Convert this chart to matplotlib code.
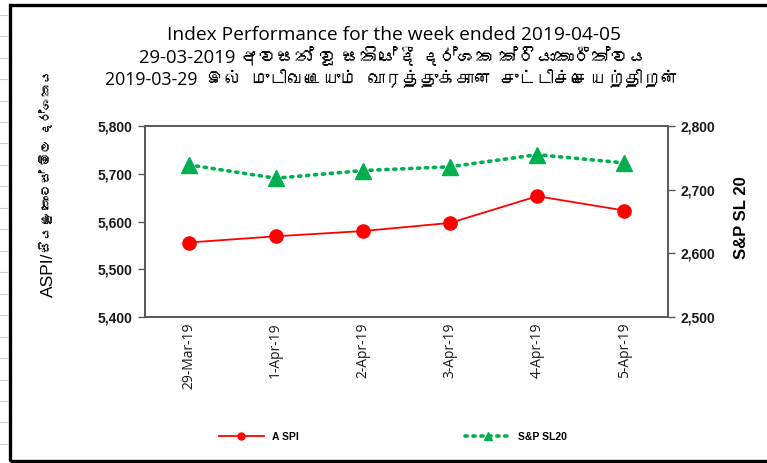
import numpy as np
import matplotlib
matplotlib.use('Agg')
import matplotlib.pyplot as plt
from matplotlib import font_manager
from matplotlib.ft2font import FT2Font
from matplotlib.lines import Line2D
from matplotlib.patches import Rectangle

# data
dates = ['29-Mar-19', '1-Apr-19', '2-Apr-19', '3-Apr-19', '4-Apr-19', '5-Apr-19']
aspi = [5556, 5569, 5580, 5597, 5653, 5623]
snp = [2739, 2718, 2730, 2736, 2755, 2742]
aspi_ticks = [5400, 5500, 5600, 5700, 5800]
snp_ticks = [2500, 2600, 2700, 2800]

title_en = 'Index Performance for the week ended 2019-04-05'
title_si = '29-03-2019 අවසන් වූ සතියේදී දර්ශක ක්රියාකාරීත්වය'
title_ta = '2019-03-29  இல்  முடிவடையும்  வாரத்துக்கான  சுட்டிச்செயற்திறன்'
ylab_left_a = 'ASPI/'
ylab_left_b = 'සියළු කොටස් මිල දර්ශකය'
ylab_right = 'S&P SL 20'


def find_family(ch):
    # look for any installed font that has the glyph
    for f in font_manager.fontManager.ttflist:
        try:
            if ord(ch) in FT2Font(f.fname).get_charmap():
                return f.name
        except Exception:
            pass
    return None


si_font = find_family('අ')
ta_font = find_family('இ')
fam_si = ['Open Sans'] + ([si_font] if si_font else []) + ['DejaVu Sans']
fam_ta = ['Open Sans'] + ([ta_font] if ta_font else []) + ['DejaVu Sans']
fam_si_arial = ['Liberation Sans'] + ([si_font] if si_font else []) + ['DejaVu Sans']

W, H = 767, 463
fig = plt.figure(figsize=(W / 100, H / 100), dpi=100)
ax = fig.add_axes([145 / W, 1 - 317 / H, 523 / W, 191 / H])
ax2 = ax.twinx()

x = np.arange(len(dates))
ax.plot(x, aspi, color='#FF0000', lw=1.3, marker='o', ms=9.5, zorder=3)
ax2.plot(x, snp, color='#00B050', lw=2.6, ls=(0, (0.6, 1.6)), dash_capstyle='round',
         marker='^', ms=12, zorder=3)

ax.set_xlim(-0.5, len(dates) - 0.5)
ax.set_ylim(5400, 5800)
ax2.set_ylim(2500, 2800)
ax.set_yticks(aspi_ticks)
ax.set_yticklabels(['{:,}'.format(v) for v in aspi_ticks])
ax2.set_yticks(snp_ticks)
ax2.set_yticklabels(['{:,}'.format(v) for v in snp_ticks])
ax.set_xticks(x)
ax.set_xticklabels(dates, rotation=90, fontsize=10, family='Open Sans', color='#1a1a1a')

for a in (ax, ax2):
    for s in a.spines.values():
        s.set_color('#595959')
        s.set_linewidth(1.2)
    a.tick_params(axis='y', length=5, width=1, color='#595959', labelsize=10, pad=4,
                  labelcolor='#1a1a1a')
    for t in a.get_yticklabels():
        t.set_fontweight('bold')
        t.set_family('Liberation Sans')
ax.tick_params(axis='x', length=0, pad=4)

# titles
fig.text(394 / W, 1 - 35 / H, title_en, ha='center', va='center', fontsize=13.8, family='Open Sans')
fig.text(393 / W, 1 - 57 / H, title_si, ha='center', va='center', fontsize=13.3, family=fam_si)
fig.text(392 / W, 1 - 80 / H, title_ta, ha='center', va='center', fontsize=12.8, family=fam_ta)

# left label: big ASPI, smaller sinhala part stacked above it
ta = fig.text(48 / W, 1 - 297 / H, ylab_left_a, ha='center', va='bottom', rotation=90,
              fontsize=12.5, family='Liberation Sans')
fig.canvas.draw()
top = fig.transFigure.inverted().transform(
    (0, ta.get_window_extent(fig.canvas.get_renderer()).y1))[1]
fig.text(47 / W, top, ylab_left_b, ha='center', va='bottom', rotation=90,
         fontsize=9.5, fontweight='bold', family=fam_si_arial)
fig.text(742 / W, 1 - 218 / H, ylab_right, ha='center', va='center', rotation=90,
         fontsize=12, fontweight='bold', family='Liberation Sans')

# legend
h1 = Line2D([], [], color='#FF0000', lw=1.3, marker='o', ms=5)
h2 = Line2D([], [], color='#00B050', lw=2.6, ls=(0, (0.6, 1.6)), dash_capstyle='round',
            marker='^', ms=6)
fig.legend([h1, h2], ['A SPI', 'S&P SL20'], loc='center', bbox_to_anchor=(393 / W, 1 - 437 / H),
           ncol=2, frameon=False, handlelength=4.3, columnspacing=16,
           prop={'family': 'Liberation Sans', 'weight': 'bold', 'size': 7.5})

# sheet grid marks on the far left and chart border
for k in range(21):
    yy = 1 - (14.7 + 21.46 * k) / H
    fig.add_artist(Line2D([0, 7 / W], [yy, yy], color='#d0d0d0', lw=0.8))
fig.add_artist(Rectangle((9.5 / W, 2.5 / H), 1.2, 1 - 7.5 / H, fill=False,
                         edgecolor='black', lw=2.4, transform=fig.transFigure))

fig.savefig('out.png', dpi=100)
